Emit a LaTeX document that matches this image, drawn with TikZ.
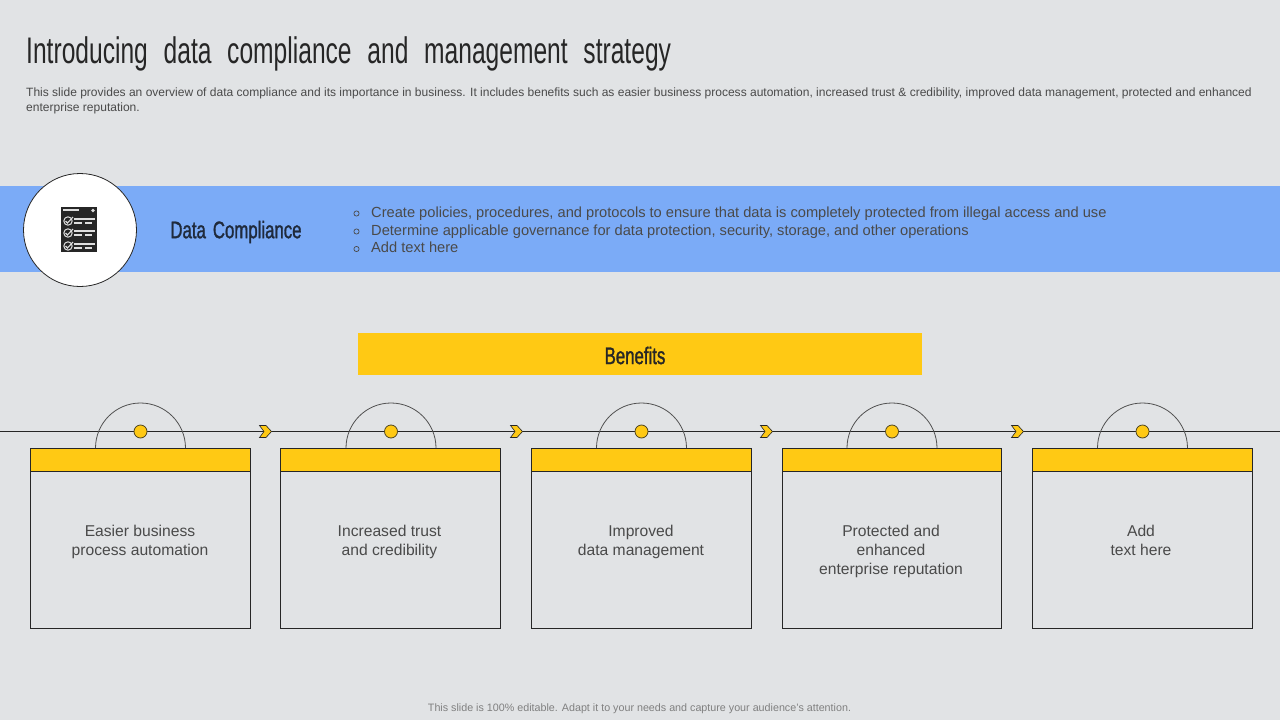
\documentclass[tikz,border=0pt]{standalone}
\usepackage{fontspec}
\setmainfont{Liberation Sans}
\newfontfamily\condfont[FakeStretch=0.665,WordSpace=2.3]{Liberation Sans}
\newfontfamily\condbold[FakeStretch=0.70,WordSpace=1.5,FakeBold=1.2]{Liberation Sans}
\definecolor{pagebg}{HTML}{E1E3E5}
\definecolor{band}{HTML}{7BABF7}
\definecolor{amber}{HTML}{FFC914}
\definecolor{ink}{HTML}{262626}
\definecolor{bodytxt}{HTML}{4A4A4A}
\definecolor{navy}{HTML}{1F2A3C}
\tikzset{
  card/.style={draw=ink,line width=0.9pt,fill=pagebg,minimum width=220pt,minimum height=180pt,inner sep=0pt,anchor=north west},
  cardhead/.style={draw=ink,line width=0.9pt,fill=amber,minimum width=220pt,minimum height=23pt,inner sep=0pt,anchor=north west},
  cardtext/.style={font=\fontsize{15.65}{19}\selectfont,text=bodytxt,align=center,anchor=north},
  dot/.style={circle,draw=ink!80!amber,line width=0.8pt,fill=amber,minimum size=13pt,inner sep=0pt},
  arc line/.style={draw=ink!80,line width=0.8pt},
  chev/.style={draw=ink,line width=0.6pt,fill=amber,line join=miter},
  small/.style={text=bodytxt,inner sep=0pt}
}
\begin{document}
\begin{tikzpicture}[x=1pt,y=-1pt]
\useasboundingbox (0,0) rectangle (1280,720);
\fill[pagebg] (0,0) rectangle (1280,720);
% title
\node[anchor=west,inner sep=0pt,text=ink] (title) at (26,53.5) {\condfont\fontsize{37}{40}\selectfont Introducing data compliance and management strategy};
\node[anchor=north west,small,align=left,font=\fontsize{12.02}{14.5}\selectfont] (intro) at (26,87.7) {This slide provides an overview of data compliance and its importance in business. It includes benefits such as easier business process automation, increased trust \& credibility, improved data management, protected and enhanced\\enterprise reputation.};
% band
\fill[band] (0,186) rectangle (1280,272);
\node[circle,draw=ink,line width=0.8pt,fill=white,minimum size=113pt,inner sep=0pt] (iconc) at (80,230) {};
% icon
\fill[ink] (61,207) rectangle (97,252);
\fill[white!85!ink] (63,209) rectangle (79,211);
\fill[white!85!ink] (93,210.5) circle (1.8);
\foreach \yy in {221,233,246}{
  \draw[white!85!ink,line width=1pt] (68,\yy) circle (4.2);
  \draw[white!85!ink,line width=1.1pt] (65.5,\yy) -- (67.5,\yy+2) -- (73,\yy-4);
  \draw[white!85!ink,line width=1.1pt] (74,\yy-2) -- (95,\yy-2);
  \draw[white!85!ink,line width=1.1pt] (74,\yy+2) -- (82,\yy+2) (85,\yy+2) -- (92,\yy+2);
}
\node[anchor=center,inner sep=0pt,text=navy] (dc) at (236,232) {\condbold\fontsize{24}{26}\selectfont Data Compliance};
% bullets
\foreach \yy/\nm/\tx in {217/b1/Create policies{,} procedures{,} and protocols to ensure that data is completely protected from illegal access and use,
  235/b2/Determine applicable governance for data protection{,} security{,} storage{,} and other operations,
  252.5/b3/Add text here}{
  \draw[bodytxt,line width=0.7pt] (356.5,\yy-3.5) circle (2.6);
  \node[anchor=base west,small,font=\fontsize{14.65}{18}\selectfont] (\nm) at (371,\yy) {\tx};
}
% benefits
\node[fill=amber,minimum width=564pt,minimum height=42pt,inner sep=0pt] (ben) at (640,354) {};
\node[inner sep=0pt,text=ink] (bent) at (635,355.5) {\condbold\fontsize{24}{26}\selectfont Benefits};
% timeline
\coordinate (tl) at (0,431.5);
\coordinate (tr) at (1280,431.5);
\draw[ink,line width=0.9pt] (tl) -- (tr);
\foreach \xx/\cx/\nm/\cardw in {30/140.5/a/220,280/391/b/220,531/641.5/c/220,781.5/892/d/219.5,1032/1142.5/e/220}{
  \draw[arc line] (\cx-45,448) arc[start angle=180,end angle=360,radius=45];
  \node[dot] (dot\nm) at (\cx,431.5) {};
  \node[card,minimum width=\cardw pt] (card\nm) at (\xx,448) {};
  \node[cardhead,minimum width=\cardw pt] (head\nm) at (\xx,448) {};
}
\foreach \xx in {259.5,510.5,760.5,1011.5}{
  \draw[chev] (\xx,425.5) -- (\xx+6.5,425.5) -- (\xx+12,431.5) -- (\xx+6.5,437.5) -- (\xx,437.5) -- (\xx+4.5,431.5) -- cycle;
}
\node[cardtext] (ta) at (140,522) {Easier business\\process automation};
\node[cardtext] (tb) at (389.5,522) {Increased trust\\and credibility};
\node[cardtext] (tc) at (641,522) {Improved\\data management};
\node[cardtext] (td) at (891,522) {Protected and\\enhanced\\enterprise reputation};
\node[cardtext] (te) at (1141,522) {Add\\text here};
\node[inner sep=0pt,text=black!50,font=\fontsize{10.73}{12}\selectfont] (foot) at (639.5,708.5) {This slide is 100\% editable.  Adapt it to your needs and capture your audience's attention.};
\end{tikzpicture}
\end{document}
